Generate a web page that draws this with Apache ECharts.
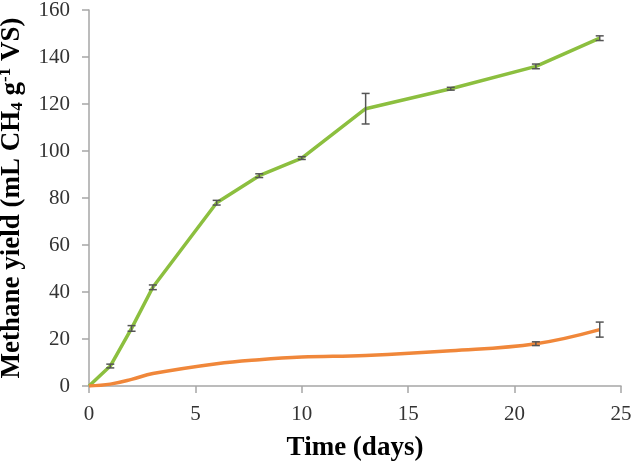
<!DOCTYPE html>
<html><head><meta charset="utf-8">
<script src="https://cdn.jsdelivr.net/npm/echarts@6/dist/echarts.min.js"></script>
<style>html,body{margin:0;padding:0;background:#fff}#c{width:634px;height:468px}</style>
</head><body><div id="c"></div>
<script>
const days = [0, 1, 2, 3, 6, 8, 10, 13, 17, 21, 24];
const greenYield = [0, 8.5, 24.5, 42, 78, 89.5, 97, 118, 126.5, 136, 148];
const greenErr = [0, 0.8, 1.2, 1, 1, 0.8, 0.6, 6.5, 0.6, 1, 1];
const orangeYield = [0, 0.8, 2.8, 5.3, 9.5, 11.2, 12.3, 13, 15, 18, 24];
const orangeErr = [0, 0, 0, 0, 0, 0, 0, 0, 0, 0.8, 3.2];
const xTicks = [0, 5, 10, 15, 20, 25];
const yTicks = [0, 20, 40, 60, 80, 100, 120, 140, 160];

const pairs = (ys) => days.map((d, i) => [d, ys[i]]);
const errData = (ys, es) => days.map((d, i) => [d, ys[i] - es[i], ys[i] + es[i]]).filter((r, i) => es[i] > 0);

function errRender(params, api) {
  const x = api.value(0), lo = api.value(1), hi = api.value(2);
  const pLo = api.coord([x, lo]), pHi = api.coord([x, hi]);
  const w = 4;
  const style = { stroke: '#555', lineWidth: 1.5 };
  return { type: 'group', children: [
    { type: 'line', shape: { x1: pLo[0], y1: pLo[1], x2: pHi[0], y2: pHi[1] }, style },
    { type: 'line', shape: { x1: pLo[0]-w, y1: pLo[1], x2: pLo[0]+w, y2: pLo[1] }, style },
    { type: 'line', shape: { x1: pHi[0]-w, y1: pHi[1], x2: pHi[0]+w, y2: pHi[1] }, style }
  ]};
}

const chart = echarts.init(document.getElementById('c'));
const axisCol = '#a6a6a6';
const serif = 'Liberation Serif';
chart.setOption({
  animation: false,
  grid: { left: 89, right: 13, top: 10, bottom: 82, containLabel: false, outerBoundsMode: 'none' },
  xAxis: {
    type: 'value', min: 0, max: 25, interval: 5,
    name: 'Time (days)', nameLocation: 'middle', nameGap: 49,
    nameTextStyle: { fontFamily: serif, fontWeight: 'bold', fontSize: 27, color: '#000' },
    axisLine: { show: true, lineStyle: { color: axisCol, width: 1.5 } },
    axisTick: { show: true, inside: false, length: 7, lineStyle: { color: axisCol, width: 1.5 } },
    axisLabel: { fontFamily: serif, fontSize: 21, color: '#333', margin: 18 },
    splitLine: { show: false }
  },
  yAxis: {
    type: 'value', min: 0, max: 160, interval: 20,
    name: '{a|Methane yield (mL CH}{sub|4}{a| g}{sup|-1}{a| VS)}',
    nameLocation: 'middle', nameGap: 58, nameRotate: 90,
    nameTextStyle: {
      fontFamily: serif, fontWeight: 'bold', fontSize: 27, color: '#000',
      rich: {
        a: { fontFamily: serif, fontWeight: 'bold', fontSize: 27, color: '#000', lineHeight: 32, verticalAlign: 'middle' },
        sub: { fontFamily: serif, fontWeight: 'bold', fontSize: 17, color: '#000', lineHeight: 32, verticalAlign: 'bottom', padding: [0,0,1,0] },
        sup: { fontFamily: serif, fontWeight: 'bold', fontSize: 17, color: '#000', lineHeight: 32, verticalAlign: 'top', padding: [2,0,0,0] }
      }
    },
    axisLine: { show: true, lineStyle: { color: axisCol, width: 1.5 } },
    axisTick: { show: true, inside: false, length: 7, lineStyle: { color: axisCol, width: 1.5 } },
    axisLabel: { fontFamily: serif, fontSize: 21, color: '#333', margin: 19 },
    splitLine: { show: false }
  },
  series: [
    { type: 'line', data: pairs(greenYield), showSymbol: false, smooth: false,
      lineStyle: { color: '#8cbf3f', width: 3.5 }, z: 3 },
    { type: 'line', data: pairs(orangeYield), showSymbol: false, smooth: 0.4,
      lineStyle: { color: '#f0873a', width: 3.5 }, z: 3 },
    { type: 'custom', renderItem: errRender, data: errData(greenYield, greenErr), z: 4 },
    { type: 'custom', renderItem: errRender, data: errData(orangeYield, orangeErr), z: 4 }
  ]
});
</script></body></html>
